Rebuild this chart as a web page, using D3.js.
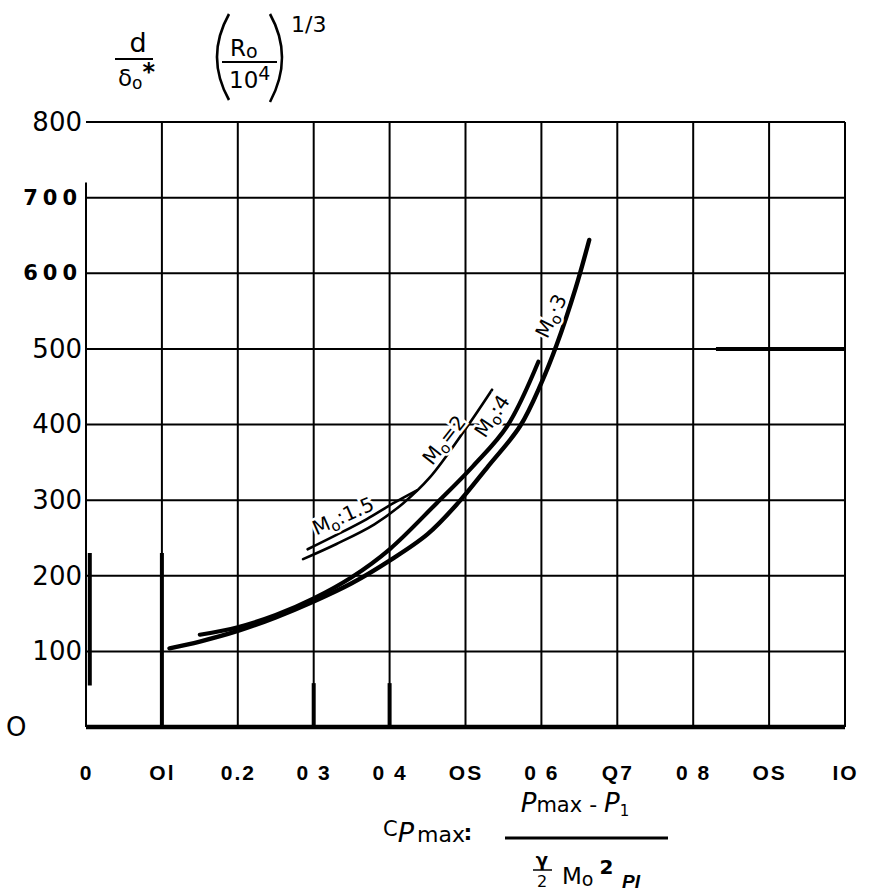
<!DOCTYPE html>
<html>
<head>
<meta charset="utf-8">
<script src="https://cdn.jsdelivr.net/npm/d3@7"></script>
<style>
  body { margin: 0; background: #fff; }
  svg { display: block; }
  .tick text { fill: #000; }
</style>
</head>
<body>
<svg id="chart" width="884" height="891"></svg>
<script>
// tick values and the labels as they read on the scanned sheet
var xTicks = [0, 0.1, 0.2, 0.3, 0.4, 0.5, 0.6, 0.7, 0.8, 0.9, 1.0];
var xTickLabels = ["0", "Ol", "0.2", "0 3", "0 4", "OS", "0 6", "Q7", "0 8", "OS", "IO"];
var yTicks = [0, 100, 200, 300, 400, 500, 600, 700, 800];
var yTickLabels = ["O", "100", "200", "300", "400", "500", "600", "700", "800"];

// curves, [Cp max, d/δ0* (R0/10^4)^(1/3)]
var mo15 = [[0.292, 235], [0.33, 254], [0.37, 275], [0.405, 296], [0.436, 313]];
var mo2  = [[0.286, 222], [0.33, 242], [0.38, 268], [0.418, 296], [0.453, 330], [0.5, 394], [0.535, 446]];
var mo4  = [[0.15, 122], [0.2, 132], [0.25, 148], [0.3, 170], [0.35, 198], [0.4, 235], [0.462, 296], [0.51, 345], [0.555, 398], [0.596, 483]];
var mo3  = [[0.11, 104], [0.15, 113], [0.2, 127], [0.25, 145], [0.3, 166], [0.35, 190], [0.4, 220], [0.45, 255], [0.49, 296], [0.53, 345], [0.572, 398], [0.6, 455], [0.62, 505], [0.645, 580], [0.663, 644]];

var series = [
  {mach: "1.5", sep: ":", pts: mo15, w: 2.6},
  {mach: "2",   sep: "=", pts: mo2,  w: 2.6},
  {mach: "4",   sep: ":", pts: mo4,  w: 4.2},
  {mach: "3",   sep: "·", pts: mo3,  w: 4.4}
];

var svg = d3.select("#chart");
var x = d3.scaleLinear().domain([0, 1]).range([86, 845]);
var y = d3.scaleLinear().domain([0, 800]).range([727, 122]);

// grid ---------------------------------------------------------------
var grid = svg.append("g").attr("stroke", "#000").attr("stroke-width", 2);
grid.selectAll("line.v").data(xTicks).enter().append("line")
  .attr("class", "v")
  .attr("x1", function(d) { return x(d); })
  .attr("x2", function(d) { return x(d); })
  .attr("y1", y(0))
  .attr("y2", function(d) { return d === 0 ? y(720) : y(800); });
grid.selectAll("line.h").data(yTicks).enter().append("line")
  .attr("class", "h")
  .attr("x1", x(0)).attr("x2", x(1))
  .attr("y1", function(d) { return y(d); })
  .attr("y2", function(d) { return y(d); })
  .attr("stroke-width", function(d) { return d === 0 ? 4.5 : 2; });

// heavier pen strokes left on the sheet
var scanStrokes = [[0.005, 0.005, 55, 230], [0.1, 0.1, 0, 230], [0.3, 0.3, 0, 58], [0.4, 0.4, 0, 58], [0.83, 1.0, 500, 500]];
grid.selectAll("line.s").data(scanStrokes).enter().append("line")
  .attr("x1", function(d) { return x(d[0]); })
  .attr("x2", function(d) { return x(d[1]); })
  .attr("y1", function(d) { return y(d[2]); })
  .attr("y2", function(d) { return y(d[3]); })
  .attr("stroke-width", 4);

// tick labels ----------------------------------------------------------
var typed = function(d) { return d === 600 || d === 700; };
var yAxis = svg.append("g")
  .attr("transform", "translate(" + 82 + ",0)")
  .call(d3.axisLeft(y).tickValues(yTicks).tickSize(0).tickPadding(0)
    .tickFormat(function(d, i) { return yTickLabels[i]; }));
yAxis.select(".domain").remove();
yAxis.selectAll("text")
  .attr("font-family", "DejaVu Sans, sans-serif")
  .attr("font-size", function(d) { return typed(d) ? 21 : 26; })
  .attr("font-weight", function(d) { return typed(d) ? "bold" : "normal"; })
  .attr("letter-spacing", function(d) { return typed(d) ? 5 : 0; })
  .attr("text-anchor", function(d) { return d === 0 ? "start" : "end"; })
  .attr("x", function(d) { return d === 0 ? -76 : 0; });

var xAxis = svg.append("g")
  .attr("transform", "translate(0," + 765 + ")")
  .call(d3.axisBottom(x).tickValues(xTicks).tickSize(0).tickPadding(0)
    .tickFormat(function(d, i) { return xTickLabels[i]; }));
xAxis.select(".domain").remove();
xAxis.selectAll("text")
  .attr("font-family", "Liberation Sans, Arial, sans-serif")
  .attr("font-size", 21)
  .attr("font-weight", "bold")
  .attr("letter-spacing", 2);

// curves ---------------------------------------------------------------
var line = d3.line()
  .x(function(d) { return x(d[0]); })
  .y(function(d) { return y(d[1]); })
  .curve(d3.curveCatmullRom.alpha(0.5));

svg.append("g").selectAll("path").data(series).enter().append("path")
  .attr("d", function(d) { return line(d.pts); })
  .attr("fill", "none")
  .attr("stroke", "#000")
  .attr("stroke-width", function(d) { return d.w; })
  .attr("stroke-linecap", "round");

// curve labels, written along the curves
var labelPos = {"1.5": [343, 516, -24], "2": [444, 440, -52], "4": [492, 416, -56], "3": [551, 316, -64]};
var lab = svg.append("g").selectAll("text").data(series).enter().append("text")
  .attr("transform", function(d) {
    var p = labelPos[d.mach];
    return "translate(" + p[0] + "," + p[1] + ") rotate(" + p[2] + ")";
  })
  .attr("text-anchor", "middle")
  .attr("dy", "0.35em")
  .attr("font-family", "DejaVu Sans, sans-serif")
  .attr("font-size", 20)
  .attr("stroke", "#fff").attr("stroke-width", 5).attr("paint-order", "stroke")
  .attr("fill", "#000");
lab.append("tspan").text("M");
lab.append("tspan").attr("font-size", 15).attr("dy", 4).text("o");
lab.append("tspan").attr("dy", -4).text(function(d) { return d.sep + d.mach; });

// y title: d/δ0* (R0/10^4)^1/3 ------------------------------------------
var yt = svg.append("g").attr("font-family", "DejaVu Sans, sans-serif").attr("fill", "#000");
yt.append("text").attr("x", 138).attr("y", 52).attr("text-anchor", "middle").attr("font-size", 27).text("d");
yt.append("line").attr("x1", 115).attr("x2", 153).attr("y1", 59).attr("y2", 59).attr("stroke", "#000").attr("stroke-width", 2.2);
var den = yt.append("text").attr("x", 118).attr("y", 86).attr("font-size", 23);
den.append("tspan").text("δ");
den.append("tspan").attr("font-size", 17).attr("dy", 3).text("o");
den.append("tspan").attr("font-size", 24).attr("font-weight", "bold").attr("dy", -9).text("*");
yt.append("path").attr("d", "M229,14 Q205,57 229,100").attr("fill", "none").attr("stroke", "#000").attr("stroke-width", 2.6);
yt.append("path").attr("d", "M270,14 Q294,57 270,102").attr("fill", "none").attr("stroke", "#000").attr("stroke-width", 2.6);
var rn = yt.append("text").attr("x", 230).attr("y", 56).attr("font-size", 23);
rn.append("tspan").text("R");
rn.append("tspan").attr("font-size", 19).attr("dy", 2).text("o");
yt.append("line").attr("x1", 222).attr("x2", 277).attr("y1", 62).attr("y2", 62).attr("stroke", "#000").attr("stroke-width", 2.2);
var rd = yt.append("text").attr("x", 229).attr("y", 88).attr("font-size", 23);
rd.append("tspan").text("10");
rd.append("tspan").attr("font-size", 19).attr("dy", -8).text("4");
yt.append("text").attr("x", 291).attr("y", 32).attr("font-size", 22).text("1/3");

// x title: Cp max = (Pmax - P1) / (γ/2 Mo² PI) ------------------------------
var xt = svg.append("g").attr("font-family", "DejaVu Sans, sans-serif").attr("fill", "#000");
var cp = xt.append("text").attr("x", 383).attr("y", 842).attr("font-size", 24);
cp.append("tspan").attr("font-size", 21).attr("dy", -6).text("C");
cp.append("tspan").attr("font-style", "italic").attr("font-size", 27).attr("dy", 6).text("P");
cp.append("tspan").attr("font-size", 22).attr("dx", 3).text("max");
xt.append("text").attr("x", 468).attr("y", 840).attr("text-anchor", "middle").attr("font-size", 22).attr("font-weight", "bold").text(":");
var num = xt.append("text").attr("x", 575).attr("y", 812).attr("text-anchor", "middle").attr("font-size", 22);
num.append("tspan").attr("font-style", "italic").attr("font-size", 26).text("P");
num.append("tspan").attr("font-size", 21).text("max");
num.append("tspan").text(" - ");
num.append("tspan").attr("font-style", "italic").attr("font-size", 26).text("P");
num.append("tspan").attr("font-size", 15).attr("dy", 4).text("1");
xt.append("line").attr("x1", 505).attr("x2", 668).attr("y1", 838).attr("y2", 838).attr("stroke", "#000").attr("stroke-width", 3);
xt.append("text").attr("x", 542).attr("y", 866).attr("text-anchor", "middle").attr("font-size", 18).attr("font-weight", "bold").text("γ");
xt.append("line").attr("x1", 533).attr("x2", 552).attr("y1", 870).attr("y2", 870).attr("stroke", "#000").attr("stroke-width", 1.5);
xt.append("text").attr("x", 542).attr("y", 887).attr("text-anchor", "middle").attr("font-size", 16).text("2");
var dm = xt.append("text").attr("x", 562).attr("y", 884).attr("font-size", 23);
dm.append("tspan").text("M");
dm.append("tspan").attr("font-size", 19).attr("dy", 2).text("o");
dm.append("tspan").attr("font-size", 20).attr("font-weight", "bold").attr("dx", 6).attr("dy", -12).text("2");
xt.append("text").attr("x", 622).attr("y", 888).attr("font-size", 19).attr("font-weight", "bold").attr("font-style", "italic")
  .attr("font-family", "Liberation Sans, Arial, sans-serif").text("PI");
</script>
</body>
</html>
